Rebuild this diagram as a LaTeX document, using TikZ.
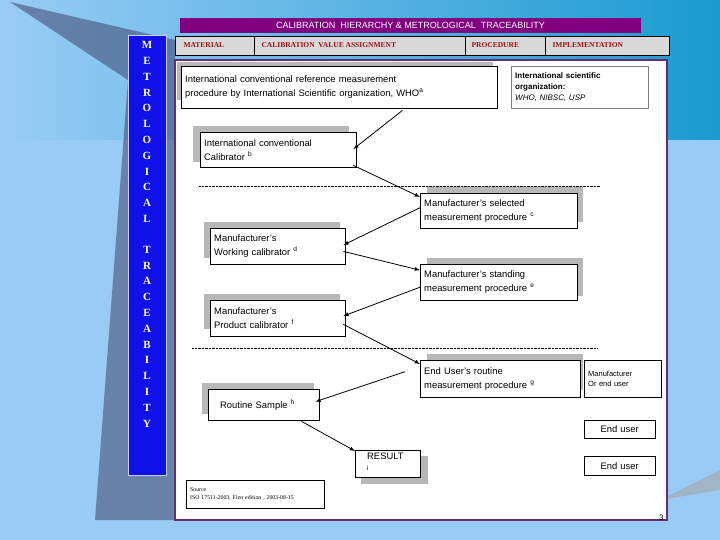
\documentclass[tikz,border=0pt]{standalone}
\usepackage{fontspec}
\setmainfont{Liberation Sans}
\newfontfamily\serifb{Liberation Serif}
\usetikzlibrary{calc}
\definecolor{bgblue}{HTML}{99CCF5}
\definecolor{topteal}{HTML}{1A9BD0}
\definecolor{ttl}{HTML}{800080}
\definecolor{panelb}{HTML}{6A2C70}
\definecolor{colblue}{HTML}{1010E8}
\definecolor{hdrred}{HTML}{A01010}
\definecolor{shad}{HTML}{B8B8B8}
\begin{document}
\begin{tikzpicture}[x=1pt,y=-1pt,
  box/.style={draw=black, fill=white, anchor=north west, align=left, inner xsep=4pt, inner ysep=3pt, font=\fontsize{9.4}{14}\selectfont},
  shd/.style={fill=shad},
  arr/.style={-latex, thick},
  hdr/.style={font=\serifb\bfseries\fontsize{7.5}{8}\selectfont, text=hdrred, anchor=west},
  dots/.style={densely dotted, thin}]
\useasboundingbox (0,0) rectangle (720,540);
% background
\fill[bgblue] (0,0) rectangle (720,540);
\shade[left color=bgblue, right color=topteal] (0,0) rectangle (720,140);
\fill[gray!75!blue!60!black, opacity=0.5] (10,2) -- (175,40) -- (175,520) -- (95,520) -- (128,80) -- cycle;
\fill[gray!70, opacity=0.6] (660,500) -- (720,470) -- (720,490) -- cycle;
% title
\fill[ttl] (180,18) rectangle (641,33);
\node[text=white, font=\fontsize{9}{10}\selectfont] (title) at (410.5,25.5) {CALIBRATION\ \ HIERARCHY \& METROLOGICAL\ \ TRACEABILITY};
% left column
\fill[colblue, draw=white!80!blue, line width=1pt] (128,36) rectangle (166,475);
\node[text=white!90!yellow, font=\serifb\bfseries\fontsize{11}{15.8}\selectfont, align=center, anchor=north] (col) at (147,38)
 {M\\E\\T\\R\\O\\L\\O\\G\\I\\C\\A\\L\\[15pt]T\\R\\A\\C\\E\\A\\B\\I\\L\\I\\T\\Y};
% header
\fill[gray!30, draw=black] (175,36) rectangle (669,55);
\draw (254,36) -- (254,55) (465,36) -- (465,55) (545,36) -- (545,55);
\node[hdr] (h1) at (180,45.5) {MATERIAL};
\node[hdr] (h2) at (258,45.5) {CALIBRATION\ \ VALUE ASSIGNMENT};
\node[hdr] (h3) at (468,45.5) {PROCEDURE};
\node[hdr] (h4) at (549,45.5) {IMPLEMENTATION};
% panel
\draw[panelb, line width=1.3pt, fill=white] (175,60) rectangle (667,520);
% shadows
\fill[shd] (177,62) rectangle (493,100);
\fill[shd] (193,126) rectangle (349,162);
\fill[shd] (427,186) rectangle (583,222);
\fill[shd] (204,222) rectangle (340,258);
\fill[shd] (427,258) rectangle (583,296);
\fill[shd] (204,294) rectangle (340,329);
\fill[shd] (427,354) rectangle (583,390);
\fill[shd] (202,383) rectangle (314,414);
\fill[shd] (361,456) rectangle (428,484);
% dotted separators
\draw[dots] (199,186) -- (600,186);
\draw[dots] (192,348) -- (597,348);
% boxes
\node[box, text width=308, minimum height=42] (ref) at (181,66) {International conventional reference measurement\\procedure by International Scientific organization, WHO\textsuperscript{a}};
\node[box, draw=gray, text width=129, minimum height=42, font=\fontsize{8}{11}\selectfont] (iso) at (511,66) {\textbf{International scientific}\\\textbf{organization:}\\\textit{WHO, NIBSC, USP}};
\node[box, text width=148, minimum height=35] (icc) at (200,132) {International conventional\\Calibrator \textsuperscript{b}};
\node[box, text width=149, minimum height=35] (sel) at (420,193) {Manufacturer's selected\\measurement procedure \textsuperscript{c}};
\node[box, text width=127, minimum height=36] (wc) at (210,228) {Manufacturer's\\Working calibrator \textsuperscript{d}};
\node[box, text width=149, minimum height=36] (std) at (420,264) {Manufacturer's standing\\measurement procedure \textsuperscript{e}};
\node[box, text width=127, minimum height=36] (pc) at (210,300) {Manufacturer's\\Product calibrator \textsuperscript{f}};
\node[box, text width=152, minimum height=37] (eu) at (420,360) {End User's routine\\measurement procedure \textsuperscript{g}};
\node[box, text width=69, minimum height=37, font=\fontsize{7.5}{10.5}\selectfont] (meu) at (584,360) {Manufacturer\\Or end user};
\node[box, text width=87, inner xsep=12pt, minimum height=31] (rs) at (208,389) {Routine Sample \textsuperscript{h}};
\node[box, text width=63, minimum height=18, align=center] (eu1) at (584,420) {End user};
\node[box, text width=41, inner xsep=12pt, minimum height=27] (res) at (355,450) {RESULT \textsuperscript{i}};
\node[box, text width=63, minimum height=19, align=center] (eu2) at (584,456) {End user};
\node[box, text width=130, minimum height=28, font=\serifb\fontsize{5.8}{7.5}\selectfont] (src) at (186,480) {Source\\ISO 17511-2003, First edition , 2003-08-15};
\node[font=\fontsize{8}{9}\selectfont, anchor=north west, inner sep=0pt] (pg) at (659,515) {3};
% arrows
\draw[arr] ($(ref.south west)!0.7!(ref.south east)+(0,2)$) -- ($(icc.north east)+(-3,17)$);
\draw[arr] ($(icc.south east)+(-3,-2)$) -- ($(sel.north west)+(0,4)$);
\draw[arr] ($(sel.west)+(0,-3)$) -- ($(wc.north east)+(-2,17)$);
\draw[arr] ($(wc.south east)+(-2,-13)$) -- ($(std.west)+(0,-12)$);
\draw[arr] ($(std.west)+(0,5)$) -- ($(pc.north east)+(-2,16)$);
\draw[arr] ($(pc.south east)+(-2,-12)$) -- ($(eu.north west)+(0,4)$);
\draw[arr] ($(eu.west)+(-15,-7)$) -- ($(rs.east)+(-4,-3)$);
\draw[arr] ($(rs.south west)!0.84!(rs.south east)+(0,1)$) -- ($(res.north west)+(0,1)$);
\end{tikzpicture}
\end{document}
